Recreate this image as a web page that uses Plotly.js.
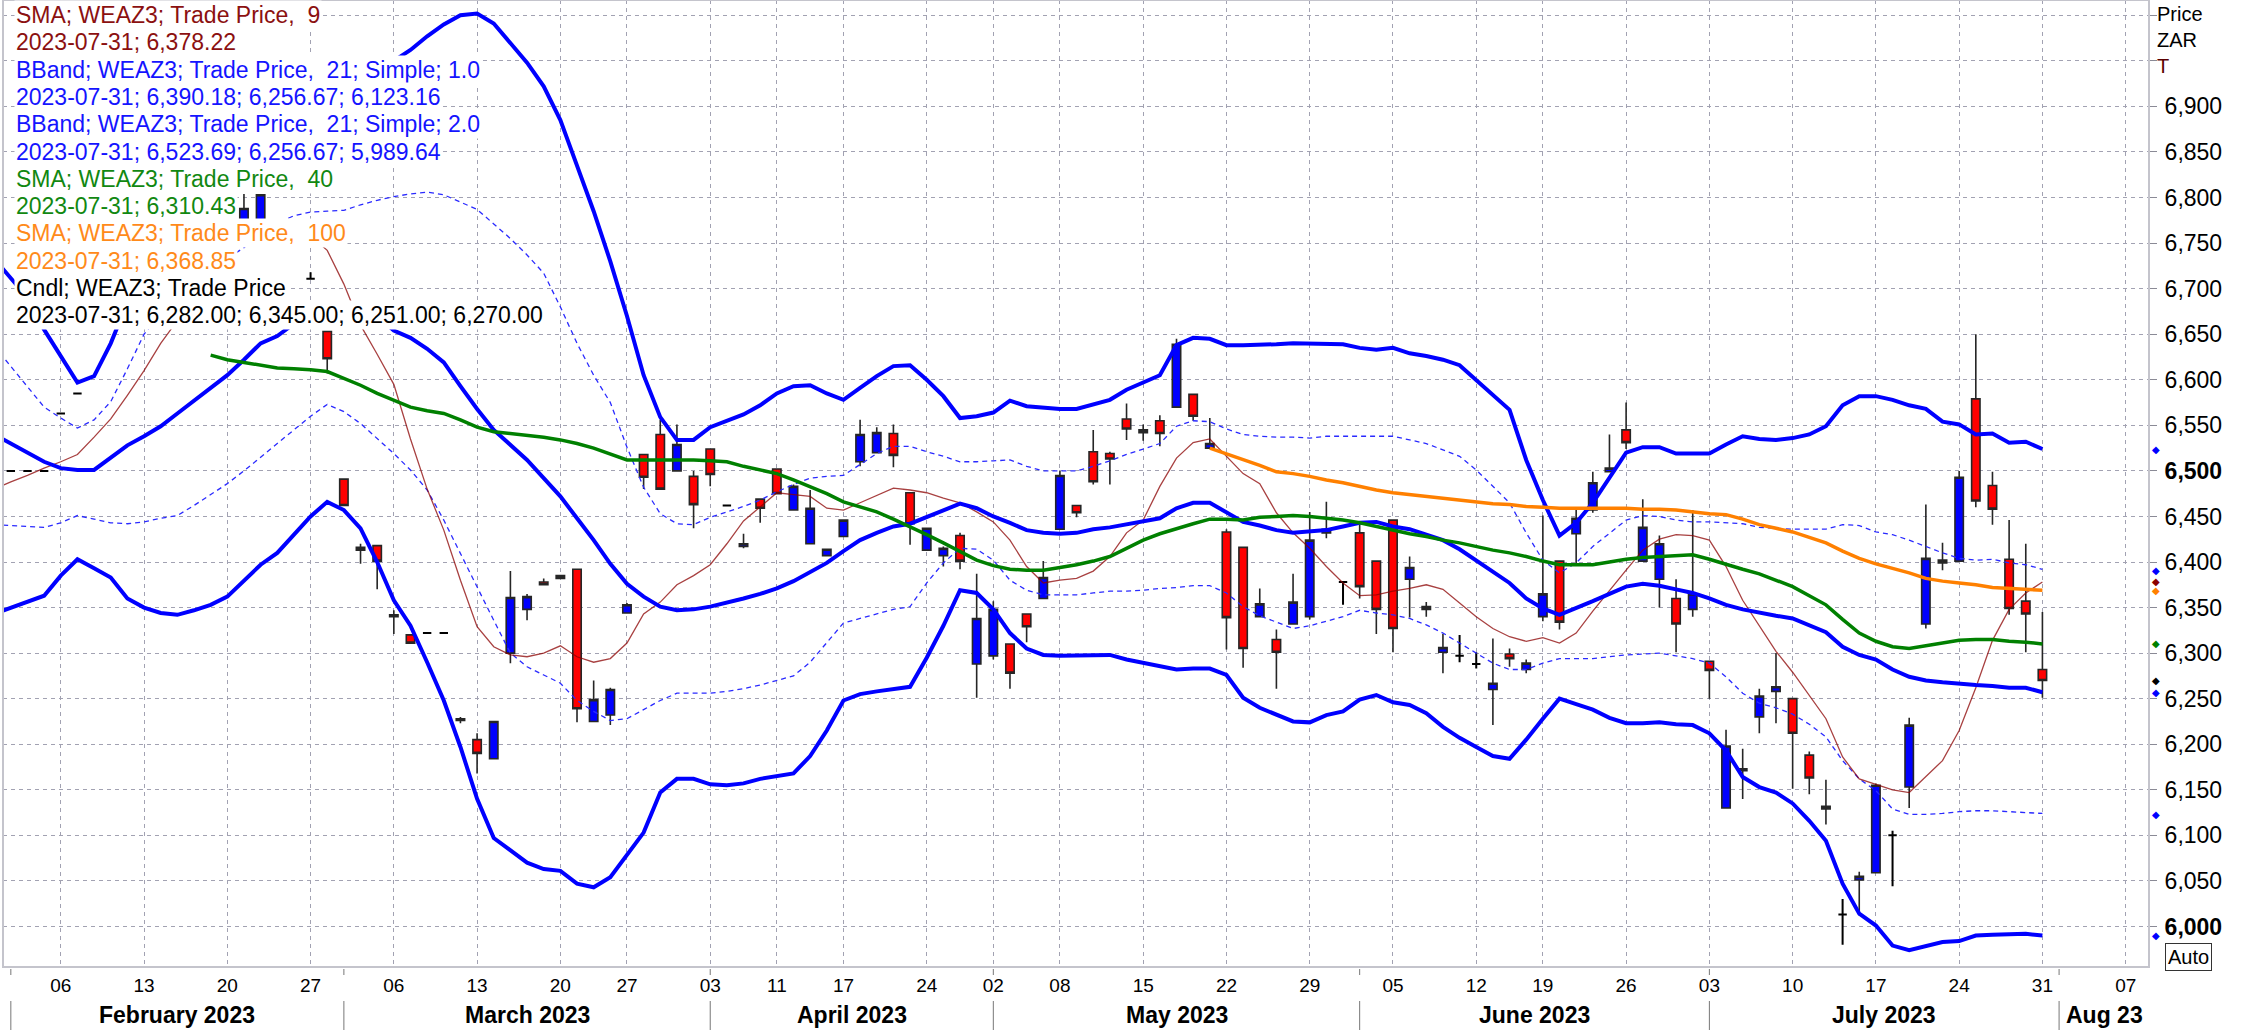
<!DOCTYPE html>
<html><head><meta charset="utf-8">
<script src="https://cdn.plot.ly/plotly-3.0.1.min.js"></script>
<style>html,body{margin:0;padding:0;background:#fff;}#chart{width:2247px;height:1030px;}</style>
</head><body><div id="chart"></div>
<script>
// ---------- axis structure ----------
const holidays = ['2023-03-21','2023-04-07','2023-04-10','2023-04-27','2023-05-01','2023-06-16'];
function tradingDays(start, end){
  const out = []; const d = new Date(start + 'T00:00:00Z'); const e = new Date(end + 'T00:00:00Z');
  while (d <= e){ const s = d.toISOString().slice(0,10); const w = d.getUTCDay();
    if (w !== 0 && w !== 6 && holidays.indexOf(s) < 0) out.push(s); d.setUTCDate(d.getUTCDate()+1); }
  return out;
}
const days = tradingDays('2023-01-31','2023-08-08');
const lineDays = days.filter(d => d <= '2023-07-31');   // 2023-01-31 .. 2023-07-31

const weekTicks = ['2023-02-06','2023-02-13','2023-02-20','2023-02-27','2023-03-06','2023-03-13','2023-03-20','2023-03-27',
  '2023-04-03','2023-04-11','2023-04-17','2023-04-24','2023-05-02','2023-05-08','2023-05-15','2023-05-22','2023-05-29',
  '2023-06-05','2023-06-12','2023-06-19','2023-06-26','2023-07-03','2023-07-10','2023-07-17','2023-07-24','2023-07-31','2023-08-07'];
const weekLabels = weekTicks.map(d => d.slice(8,10));
const monthStarts = ['2023-02-01','2023-03-01','2023-04-03','2023-05-02','2023-06-01','2023-07-03','2023-08-01'];
const monthNames = ['February 2023','March 2023','April 2023','May 2023','June 2023','July 2023','Aug 23'];

// ---------- candles ----------
const candleDates = ['2023-02-01','2023-02-02','2023-02-03','2023-02-06','2023-02-07','2023-02-21','2023-02-22','2023-02-27','2023-02-28',
 '2023-03-01','2023-03-02','2023-03-03','2023-03-06','2023-03-07','2023-03-08','2023-03-09','2023-03-10','2023-03-13','2023-03-14','2023-03-15',
 '2023-03-16','2023-03-17','2023-03-20','2023-03-22','2023-03-23','2023-03-24','2023-03-27','2023-03-28','2023-03-29','2023-03-30','2023-03-31',
 '2023-04-03','2023-04-04','2023-04-05','2023-04-06','2023-04-11','2023-04-12','2023-04-13','2023-04-14','2023-04-17','2023-04-18','2023-04-19',
 '2023-04-20','2023-04-21','2023-04-24','2023-04-25','2023-04-26','2023-04-28','2023-05-02','2023-05-03','2023-05-04','2023-05-05','2023-05-08',
 '2023-05-09','2023-05-10','2023-05-11','2023-05-12','2023-05-15','2023-05-16','2023-05-17','2023-05-18','2023-05-19','2023-05-22','2023-05-23',
 '2023-05-24','2023-05-25','2023-05-26','2023-05-29','2023-05-30','2023-05-31','2023-06-01','2023-06-02','2023-06-05','2023-06-06','2023-06-07',
 '2023-06-08','2023-06-09','2023-06-12','2023-06-13','2023-06-14','2023-06-15','2023-06-19','2023-06-20','2023-06-21','2023-06-22','2023-06-23',
 '2023-06-26','2023-06-27','2023-06-28','2023-06-29','2023-06-30','2023-07-03','2023-07-04','2023-07-05','2023-07-06','2023-07-07','2023-07-10',
 '2023-07-11','2023-07-12','2023-07-13','2023-07-14','2023-07-17','2023-07-18','2023-07-19','2023-07-20','2023-07-21','2023-07-24','2023-07-25',
 '2023-07-26','2023-07-27','2023-07-28','2023-07-31'];
const openP = [6500,6500,6500,6563,6585,6775,6775,6711,6653,
 6491,6416,6418,6342,6320,6322,6322,6228,6205,6184,6300,
 6348,6378,6385,6392,6225,6232,6344,6518,6540,6500,6494,
 6524,6462,6417,6469,6502,6457,6420,6407,6428,6510,6520,
 6541,6476,6413,6407,6429,6288,6297,6310,6343,6360,6436,
 6462,6521,6519,6557,6545,6555,6570,6584,6525,6433,6416,
 6340,6315,6332,6340,6432,6378,6432,6401,6446,6381,6351,
 6301,6297,6288,6260,6299,6282,6340,6401,6431,6457,6499,
 6545,6401,6381,6360,6348,6291,6130,6173,6230,6258,6250,
 6188,6132,6013,6051,6059,6100,6153,6332,6399,6401,6579,
 6484,6403,6357,6282];
const highP = [6500,6500,6500,6563,6585,6804,6803,6718,6653,
 6491,6420,6418,6347,6320,6322,6322,6230,6212,6225,6390,
 6365,6382,6385,6392,6270,6262,6355,6518,6556,6551,6500,
 6524,6462,6431,6469,6502,6485,6479,6414,6446,6556,6548,
 6551,6476,6437,6417,6432,6387,6357,6310,6343,6401,6500,
 6462,6545,6521,6574,6551,6561,6645,6584,6558,6436,6416,
 6371,6326,6387,6455,6466,6378,6441,6401,6446,6406,6356,
 6321,6320,6301,6316,6305,6293,6451,6401,6459,6499,6540,
 6575,6469,6429,6381,6457,6291,6216,6195,6261,6300,6250,
 6192,6161,6030,6060,6157,6105,6229,6463,6421,6500,6650,
 6499,6446,6420,6345];
const lowP = [6500,6500,6500,6563,6585,6775,6775,6711,6607,
 6462,6398,6370,6321,6310,6322,6322,6223,6168,6184,6289,
 6336,6375,6382,6224,6225,6221,6344,6480,6480,6500,6437,
 6483,6462,6415,6443,6475,6457,6420,6407,6428,6505,6520,
 6504,6419,6413,6395,6392,6251,6293,6261,6312,6360,6436,
 6449,6485,6485,6534,6533,6527,6570,6555,6525,6304,6284,
 6340,6261,6332,6337,6426,6353,6360,6321,6301,6339,6340,
 6278,6290,6283,6221,6285,6278,6335,6326,6397,6454,6499,
 6524,6401,6350,6301,6340,6250,6130,6140,6212,6223,6151,
 6145,6112,5980,6012,6059,6044,6130,6327,6391,6401,6460,
 6441,6342,6301,6251];
const closeP = [6500,6500,6500,6563,6585,6788,6803,6711,6623,
 6462,6413,6401,6340,6311,6322,6322,6226,6190,6225,6361,
 6362,6375,6382,6239,6249,6260,6353,6493,6480,6529,6463,
 6496,6462,6420,6459,6475,6483,6459,6414,6446,6540,6542,
 6517,6442,6437,6415,6401,6338,6348,6278,6329,6383,6495,
 6454,6488,6513,6546,6542,6541,6639,6560,6530,6339,6305,
 6354,6301,6356,6424,6436,6378,6373,6348,6327,6394,6348,
 6306,6297,6288,6267,6294,6289,6365,6334,6448,6487,6503,
 6531,6438,6420,6332,6365,6281,6198,6171,6253,6263,6212,
 6163,6129,6013,6055,6155,6100,6221,6404,6402,6493,6467,
 6458,6349,6343,6270];

// ---------- indicator lines (one value per trading day, 2023-01-31 .. 2023-07-31) ----------
const bbUpper2 = [6733,6712,6690,6655,6625,6597,6604,6640,6685,6720,
 6750,6780,6805,6828,6848,6864,6880,6890,6895,6900,
 6900,6910,6925,6940,6950,6962,6977,6990,7000,7002,
 6991,6970,6948,6922,6885,6835,6785,6730,6670,6605,
 6559,6534,6534,6548,6555,6562,6572,6585,6593,6594,
 6585,6578,6591,6604,6615,6616,6600,6582,6558,6560,
 6564,6577,6571,6569,6568,6568,6573,6578,6589,6597,
 6605,6638,6646,6645,6638,6638,6638,6639,6640,6640,
 6640,6639,6635,6633,6635,6629,6626,6622,6616,6600,
 6583,6567,6512,6468,6429,6443,6465,6492,6520,6526,
 6526,6519,6519,6519,6529,6538,6535,6534,6536,6540,
 6549,6572,6582,6582,6578,6572,6568,6554,6551,6540,
 6541,6531,6532,6524];
const bbMiddle = [6540,6530,6520,6510,6503,6501,6501,6515,6528,6538,
 6549,6563,6577,6591,6605,6622,6640,6648,6662,6675,
 6682,6683,6680,6670,6654,6646,6634,6619,6593,6568,
 6545,6528,6512,6492,6472,6448,6424,6398,6376,6362,
 6351,6347,6348,6351,6355,6360,6365,6371,6379,6389,
 6399,6412,6424,6432,6439,6442,6449,6457,6464,6459,
 6450,6443,6435,6432,6431,6432,6436,6438,6441,6444,
 6448,6459,6465,6465,6454,6444,6440,6435,6432,6433,
 6435,6439,6443,6444,6439,6436,6430,6424,6414,6402,
 6390,6377,6360,6349,6342,6349,6357,6365,6373,6376,
 6374,6370,6366,6360,6353,6348,6344,6341,6338,6331,
 6323,6307,6298,6293,6282,6274,6270,6268,6266,6265,
 6264,6262,6262,6257];
const bbLower2 = [6343,6350,6356,6363,6385,6403,6393,6383,6360,6350,
 6344,6342,6347,6353,6362,6380,6397,6410,6430,6450,
 6466,6457,6437,6400,6358,6330,6290,6248,6197,6140,
 6097,6083,6070,6063,6061,6047,6043,6054,6079,6103,
 6147,6162,6162,6156,6155,6157,6162,6165,6168,6187,
 6215,6248,6255,6258,6261,6263,6295,6330,6369,6366,
 6348,6322,6305,6298,6297,6297,6298,6298,6293,6289,
 6285,6282,6283,6283,6276,6251,6240,6232,6225,6224,
 6232,6236,6249,6254,6246,6243,6234,6219,6207,6197,
 6187,6184,6205,6228,6250,6244,6238,6229,6223,6223,
 6224,6222,6221,6212,6193,6164,6153,6147,6135,6116,
 6094,6047,6014,6001,5979,5974,5979,5983,5984,5990,
 5991,5992,5992,5990];
const bbUpper1 = [6637,6615,6592,6570,6558,6547,6556,6576,6612,6650,
 6672,6690,6705,6720,6733,6745,6760,6772,6780,6784,
 6785,6786,6792,6797,6801,6804,6806,6803,6795,6787,
 6771,6755,6737,6717,6680,6640,6605,6575,6526,6482,
 6453,6442,6441,6449,6455,6461,6468,6477,6485,6492,
 6494,6495,6507,6519,6527,6527,6521,6516,6510,6510,
 6511,6512,6505,6500,6500,6500,6505,6511,6518,6524,
 6530,6549,6555,6554,6546,6540,6538,6537,6537,6536,
 6538,6538,6538,6538,6538,6534,6530,6523,6516,6501,
 6483,6465,6432,6402,6388,6399,6417,6432,6446,6451,
 6450,6446,6444,6444,6443,6442,6438,6437,6436,6436,
 6436,6441,6440,6433,6430,6424,6417,6410,6404,6402,
 6403,6399,6397,6392];
const bbLower1 = [6441,6440,6439,6438,6443,6451,6447,6443,6442,6444,
 6448,6451,6462,6474,6486,6500,6515,6529,6544,6560,
 6573,6565,6552,6536,6519,6501,6479,6446,6409,6373,
 6336,6300,6285,6276,6267,6248,6236,6226,6228,6238,
 6248,6256,6256,6256,6258,6261,6265,6270,6275,6290,
 6312,6333,6338,6343,6348,6351,6377,6399,6415,6414,
 6402,6380,6369,6364,6364,6364,6366,6368,6368,6369,
 6371,6372,6374,6374,6366,6351,6341,6334,6327,6330,
 6335,6340,6347,6344,6342,6338,6331,6322,6311,6300,
 6289,6282,6282,6289,6294,6294,6294,6296,6298,6299,
 6300,6297,6294,6289,6274,6256,6245,6240,6233,6222,
 6208,6182,6162,6149,6129,6123,6123,6124,6126,6127,
 6127,6126,6125,6124];
const sma9 = [6480,6488,6495,6503,6510,6518,6537,6557,6583,6610,
 6640,6665,6690,6720,6745,6752,6760,6765,6765,6758,
 6742,6705,6660,6628,6595,6535,6480,6435,6380,6329,
 6307,6298,6296,6300,6308,6296,6290,6294,6311,6343,
 6356,6375,6385,6397,6420,6445,6460,6476,6474,6472,
 6459,6457,6465,6473,6481,6479,6476,6470,6465,6455,
 6444,6424,6395,6377,6380,6382,6390,6406,6432,6446,
 6483,6514,6531,6535,6516,6497,6486,6454,6432,6415,
 6395,6377,6363,6364,6368,6371,6375,6370,6355,6340,
 6327,6318,6313,6317,6311,6322,6346,6369,6391,6413,
 6425,6430,6429,6424,6395,6358,6330,6302,6279,6253,
 6228,6186,6162,6156,6150,6147,6164,6182,6215,6262,
 6314,6348,6366,6378];
const sma40 = [null,null,null,null,null,null,null,null,null,null,
 null,null,null,6627,6622,6619,6616,6613,6612,6611,
 6609,6602,6594,6585,6577,6570,6566,6563,6556,6548,
 6543,6541,6539,6537,6534,6530,6525,6519,6512,6512,
 6512,6512,6512,6511,6510,6505,6501,6497,6490,6483,
 6475,6466,6461,6455,6447,6439,6430,6421,6411,6402,
 6396,6392,6391,6391,6394,6397,6401,6406,6415,6424,
 6431,6437,6442,6447,6447,6446,6449,6450,6451,6450,
 6448,6446,6443,6439,6435,6431,6428,6424,6421,6417,
 6413,6410,6406,6401,6397,6397,6397,6400,6403,6405,
 6406,6407,6408,6403,6397,6392,6387,6380,6373,6363,
 6353,6337,6322,6313,6307,6305,6308,6311,6314,6315,
 6315,6313,6312,6310];
const sma100 = [null,null,null,null,null,null,null,null,null,null,
 null,null,null,null,null,null,null,null,null,null,
 null,null,null,null,null,null,null,null,null,null,
 null,null,null,null,null,null,null,null,null,null,
 null,null,null,null,null,null,null,null,null,null,
 null,null,null,null,null,null,null,null,null,null,
 null,null,null,null,null,null,null,null,null,null,
 null,null,null,6525,6519,6512,6506,6499,6497,6494,
 6490,6487,6483,6479,6476,6474,6472,6470,6468,6466,
 6464,6463,6461,6460,6459,6459,6459,6459,6459,6458,
 6458,6457,6455,6453,6452,6447,6441,6437,6433,6427,
 6421,6412,6404,6398,6393,6388,6382,6379,6377,6375,
 6372,6371,6370,6369];

// legend values (last bar)
const lastDate = '2023-07-31';
const sma9Last = [6378.22];
const bb1Last = [6390.18, 6256.67, 6123.16];
const bb2Last = [6523.69, 6256.67, 5989.64];
const sma40Last = [6310.43];
const sma100Last = [6368.85];

// ---------- build ----------
const fmt0 = v => v.toLocaleString('en-US');
const fmt2 = v => v.toLocaleString('en-US',{minimumFractionDigits:2, maximumFractionDigits:2});
const FONT = 'Liberation Sans, Arial, sans-serif';
const C = {sma9:'#8b0000', blue:'#0000ff', green:'#008000', orange:'#ff8000'};

const idx = d => days.indexOf(d);
const main = {d:[],o:[],h:[],l:[],c:[]}, doji = {d:[],o:[],h:[],l:[],c:[]};
candleDates.forEach((d,i) => { const t = openP[i] === closeP[i] ? doji : main;
  t.d.push(d); t.o.push(openP[i]); t.h.push(highP[i]); t.l.push(lowP[i]); t.c.push(closeP[i]); });

function lineTrace(vals, color, width, dash, opacity){
  return {type:'scatter', mode:'lines', x:lineDays, y:vals, line:{color:color, width:width, dash:dash||'solid'},
    opacity:opacity||1, hoverinfo:'skip', showlegend:false};
}
const candleLine = {color:'#262626', width:1.6};
const traces = [
  {type:'candlestick', x:main.d, open:main.o, high:main.h, low:main.l, close:main.c,
   increasing:{line:candleLine, fillcolor:'#0000ff'}, decreasing:{line:candleLine, fillcolor:'#ff0000'},
   whiskerwidth:0, hoverinfo:'skip', showlegend:false},
  {type:'candlestick', x:doji.d, open:doji.o, high:doji.h, low:doji.l, close:doji.c,
   increasing:{line:{color:'#000', width:2}, fillcolor:'#000'}, decreasing:{line:{color:'#000', width:2}, fillcolor:'#000'},
   whiskerwidth:0, hoverinfo:'skip', showlegend:false},
  lineTrace(bbUpper1, '#2a2aff', 1.3, '5px,4px'),
  lineTrace(bbLower1, '#2a2aff', 1.3, '5px,4px'),
  lineTrace(sma9, C.sma9, 1.3, 'solid', 0.75),
  lineTrace(bbUpper2, C.blue, 4),
  lineTrace(bbMiddle, C.blue, 4),
  lineTrace(bbLower2, C.blue, 4),
  lineTrace(sma40, C.green, 3.5),
  lineTrace(sma100, C.orange, 3.5)
];

// y ticks
const priceTicks = []; for (let v = 6000; v <= 7000; v += 50) priceTicks.push(v);
const priceLabels = priceTicks.map(v => v > 6900 ? '' : (v % 500 === 0 ? '<b>' + fmt0(v) + '</b>' : fmt0(v)));

// geometry helpers (plot area px)
const W = 2247, H = 1030, ML = 3, MR = 98, MT = 0, MB = 63;
const PW = W - ML - MR, PH = H - MT - MB;
const px = X => (X - ML) / PW, py = Y => 1 - (Y - MT) / PH;

const annotations = [];
// legend block
const legendLines = [
  ['SMA; WEAZ3; Trade Price,\u00a0 9', '#8b1010'],
  [lastDate + '; ' + fmt2(sma9Last[0]), '#8b1010'],
  ['BBand; WEAZ3; Trade Price,\u00a0 21; Simple; 1.0', '#1414ff'],
  [lastDate + '; ' + bb1Last.map(fmt2).join('; '), '#1414ff'],
  ['BBand; WEAZ3; Trade Price,\u00a0 21; Simple; 2.0', '#1414ff'],
  [lastDate + '; ' + bb2Last.map(fmt2).join('; '), '#1414ff'],
  ['SMA; WEAZ3; Trade Price,\u00a0 40', '#118811'],
  [lastDate + '; ' + fmt2(sma40Last[0]), '#118811'],
  ['SMA; WEAZ3; Trade Price,\u00a0 100', '#ff8a1a'],
  [lastDate + '; ' + fmt2(sma100Last[0]), '#ff8a1a'],
  ['Cndl; WEAZ3; Trade Price', '#000000'],
  [lastDate + '; ' + [openP[openP.length-1], highP[highP.length-1], lowP[lowP.length-1], closeP[closeP.length-1]].map(fmt2).join('; '), '#000000']
];
legendLines.forEach((ln, i) => annotations.push({xref:'paper', yref:'paper', x:px(14), y:py(15 + 27.3*i),
  xanchor:'left', yanchor:'middle', text:ln[0], showarrow:false, bgcolor:'#ffffff', borderpad:1,
  font:{family:FONT, size:23, color:ln[1]}}));

// month labels
const monthIdx = monthStarts.map(idx);
monthNames.forEach((m, i) => {
  const a = monthIdx[i], b = i + 1 < monthIdx.length ? monthIdx[i+1] : 129.4;
  annotations.push({xref:'x', yref:'paper', x:(a + b) / 2, y:py(1015), xanchor:'center', yanchor:'middle',
    text:'<b>' + m + '</b>', showarrow:false, font:{family:FONT, size:23, color:'#000'}});
});
// right axis title
[['Price', 1, '#000'], ['ZAR', 27, '#000'], ['T', 53, '#5a0000']].forEach(t => annotations.push({xref:'paper', yref:'paper',
  x:px(2155), y:py(t[1]), xanchor:'left', yanchor:'top', text:t[0], showarrow:false, font:{family:FONT, size:20, color:t[2]}}));
// last-value markers
const markers = [[bb2Last[0], C.blue], [bb1Last[0], C.blue], [sma9Last[0], '#8b0000'], [sma100Last[0], C.orange],
  [sma40Last[0], C.green], [closeP[closeP.length-1], '#000'], [bb1Last[1], C.blue], [bb1Last[2], C.blue], [bb2Last[2], C.blue]];
markers.forEach(m => annotations.push({xref:'paper', yref:'y', x:px(2156), y:m[0], xanchor:'center', yanchor:'middle',
  text:'\u25C6', showarrow:false, font:{family:'DejaVu Sans', size:10, color:m[1]}}));
// Auto box
annotations.push({xref:'paper', yref:'paper', x:px(2188), y:py(957), xanchor:'center', yanchor:'middle', text:'Auto',
  showarrow:false, bordercolor:'#333', borderwidth:1, borderpad:2, bgcolor:'#fff', font:{family:FONT, size:20, color:'#000'}});

// shapes: frame + month separators
const shapes = [
  {type:'rect', xref:'paper', yref:'paper', x0:0, x1:1, y0:0, y1:1, line:{color:'#c4c4cc', width:2}, layer:'above'}
];
monthIdx.forEach(m => {
  shapes.push({type:'line', xref:'x', yref:'paper', x0:m, x1:m, y0:py(1001), y1:py(1030), line:{color:'#777', width:1}});
  shapes.push({type:'line', xref:'x', yref:'paper', x0:m, x1:m, y0:py(969), y1:py(975), line:{color:'#777', width:1}});
});

const layout = {
  width:W, height:H, margin:{l:ML, r:MR, t:MT, b:MB, pad:0},
  paper_bgcolor:'#fff', plot_bgcolor:'#fff', showlegend:false, font:{family:FONT},
  xaxis:{type:'category', categoryorder:'array', categoryarray:days, range:[0.53, 129.4],
    tickmode:'array', tickvals:weekTicks, ticktext:weekLabels, ticks:'', ticklabelstandoff:5,
    tickfont:{family:FONT, size:19, color:'#000'}, showgrid:true, gridcolor:'#a2a2b2', griddash:'4px,4px', gridwidth:1,
    showline:false, zeroline:false, rangeslider:{visible:false}, fixedrange:true},
  yaxis:{side:'right', range:[5955.5, 7016.8], tickmode:'array', tickvals:priceTicks, ticktext:priceLabels,
    ticks:'outside', ticklen:7, tickcolor:'#8a8a96', tickwidth:1, ticklabelstandoff:3,
    tickfont:{family:FONT, size:23, color:'#000'}, showgrid:true, gridcolor:'#a2a2b2', griddash:'4px,4px', gridwidth:1,
    showline:false, zeroline:false, fixedrange:true},
  boxgap:0.28,
  annotations:annotations, shapes:shapes
};
Plotly.newPlot('chart', traces, layout, {displayModeBar:false, staticPlot:true});
</script></body></html>
